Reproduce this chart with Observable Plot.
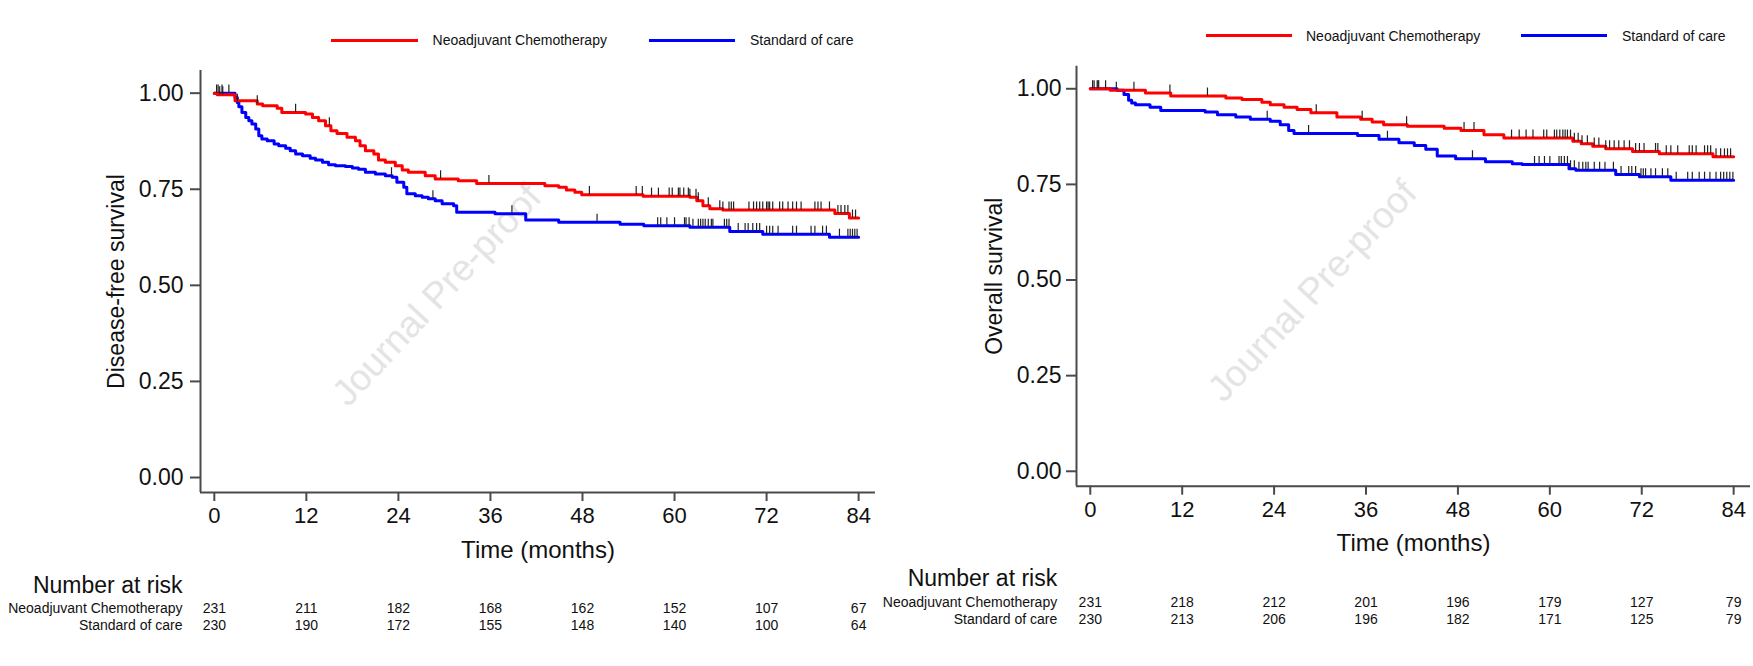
<!DOCTYPE html>
<html>
<head>
<meta charset="utf-8">
<script src="https://cdn.jsdelivr.net/npm/d3@7"></script>
<script src="https://cdn.jsdelivr.net/npm/@observablehq/plot@0.6"></script>
<style>
  body { margin: 0; background: #fff; font-family: "Liberation Sans", Arial, sans-serif; }
  #root { position: relative; width: 1753px; height: 666px; overflow: hidden; background: #fff; }
  .panel { position: absolute; top: 0; }
  .legline { position: absolute; height: 3px; }
  .legtext { position: absolute; font-size: 14px; line-height: 16px; height: 16px; color: #111; white-space: nowrap; }
</style>
</head>
<body>
<div id="root"></div>
<script>
// ---------- Data ----------
const timeTicks = [0, 12, 24, 36, 48, 60, 72, 84];
const survTicks = [0, 0.25, 0.5, 0.75, 1];
const groups = ["Neoadjuvant Chemotherapy", "Standard of care"];
const groupColors = ["#ff0000", "#0000ff"];

// Disease-free survival, step functions [months, survival]
const dfsNeo = [[0,1],[0.4,0.996],[2.7,0.980],[5.6,0.972],[6.3,0.967],[8.2,0.961],[8.8,0.950],[11.9,0.946],[12.8,0.937],[13.6,0.928],[14.5,0.915],[15.2,0.902],[16.0,0.895],[17.3,0.885],[18.4,0.876],[19.0,0.863],[19.7,0.850],[20.8,0.842],[21.4,0.826],[22.3,0.820],[23.6,0.811],[24.5,0.800],[25.3,0.794],[27.5,0.785],[28.8,0.777],[31.8,0.772],[34.2,0.765],[43.1,0.759],[44.9,0.755],[45.9,0.748],[47.0,0.742],[47.9,0.736],[55.9,0.732],[62.0,0.729],[62.9,0.720],[63.7,0.707],[64.6,0.699],[66.3,0.696],[80.9,0.687],[82.8,0.675],[84,0.675]];
const dfsSoc = [[0,1],[2.7,0.989],[3.0,0.976],[3.2,0.965],[3.6,0.950],[4.1,0.937],[4.5,0.928],[4.9,0.920],[5.4,0.907],[5.8,0.889],[6.2,0.881],[6.9,0.876],[7.8,0.868],[8.4,0.863],[9.3,0.857],[9.9,0.850],[10.6,0.842],[11.5,0.837],[12.5,0.831],[13.2,0.826],[14.1,0.820],[14.9,0.814],[15.8,0.811],[17.1,0.809],[18.0,0.805],[18.8,0.802],[19.7,0.794],[21.0,0.790],[22.3,0.785],[23.2,0.781],[23.8,0.768],[24.7,0.755],[25.1,0.738],[26.2,0.733],[27.1,0.729],[27.9,0.725],[28.8,0.720],[29.7,0.712],[31.2,0.707],[31.6,0.690],[36.6,0.686],[40.6,0.670],[44.9,0.664],[52.9,0.659],[56.0,0.655],[62.0,0.651],[67.2,0.640],[71.5,0.633],[80.2,0.625],[84,0.625]];
const dfsNeoCensored = [0.3,0.7,1.1,5.6,10.6,15.0,29.5,35.8,48.9,55.0,55.8,57.0,57.9,59.3,59.7,60.5,60.7,61.2,61.8,62.0,62.8,63.1,64.4,65.9,66.3,67.1,67.4,67.7,69.7,70.3,70.7,71.1,71.5,72.0,72.2,72.4,72.8,73.7,74.1,74.8,75.4,75.9,76.5,78.3,78.7,79.1,80.2,81.3,81.7,82.2,82.6,83.2,83.6];
const dfsSocCensored = [0.5,1.0,1.9,3.0,23.1,28.5,38.8,49.9,57.8,58.2,59.0,60.0,61.3,61.5,61.9,62.4,63.1,63.4,63.7,64.0,64.4,64.8,65.0,66.5,66.8,67.1,68.3,69.2,69.6,70.2,70.7,71.1,72.0,72.4,72.8,73.5,75.4,75.9,77.8,78.3,79.3,79.8,81.5,82.6,82.9,83.2,83.5,83.8];

// Overall survival
const osNeo = [[0,1],[2.6,0.996],[7.2,0.989],[10.5,0.981],[17.7,0.976],[19.8,0.972],[22.4,0.965],[23.5,0.958],[25.3,0.952],[27.0,0.946],[28.8,0.937],[32.2,0.926],[35.3,0.920],[36.8,0.913],[38.3,0.906],[41.4,0.902],[46.2,0.897],[48.4,0.891],[51.4,0.880],[54.0,0.871],[63.0,0.863],[64.1,0.856],[65.6,0.850],[67.3,0.843],[70.8,0.836],[74.3,0.830],[81.3,0.822],[84,0.822]];
const osSoc = [[0,1],[3.5,0.996],[4.4,0.985],[5.0,0.970],[5.4,0.963],[5.9,0.958],[7.8,0.952],[9.2,0.943],[15.0,0.939],[16.6,0.932],[19.0,0.926],[20.9,0.920],[23.5,0.915],[24.8,0.906],[25.9,0.891],[26.6,0.883],[34.9,0.878],[37.7,0.868],[40.3,0.859],[42.3,0.852],[43.8,0.842],[45.3,0.824],[47.7,0.817],[51.6,0.809],[55.1,0.804],[56.4,0.802],[62.5,0.791],[63.4,0.787],[68.6,0.776],[71.7,0.770],[75.8,0.761],[84,0.761]];
const osNeoCensored = [0.3,0.9,1.1,2.0,3.4,5.7,10.4,15.3,29.5,35.5,41.3,48.8,50.1,55.0,56.0,56.9,57.8,59.2,59.6,60.6,60.9,61.3,61.7,62.0,62.3,62.7,63.2,63.7,64.2,64.9,65.8,66.4,67.3,67.8,68.4,69.0,69.7,70.4,71.2,71.7,72.3,73.8,74.1,75.2,75.8,76.7,78.2,78.6,79.1,80.2,80.6,81.0,81.7,82.3,82.8,83.2,83.6];
const osSocCensored = [0.5,1.0,23.1,28.5,38.8,49.9,58.0,58.6,59.3,60.0,61.2,61.5,61.9,62.3,62.7,63.2,63.8,64.3,64.7,65.0,65.8,66.5,67.2,68.3,69.3,70.3,70.7,71.2,71.9,72.2,72.5,73.2,73.8,74.7,75.4,76.5,78.0,78.6,79.5,80.2,80.9,81.7,82.3,82.7,83.1,83.5,83.9];

// Number at risk
const dfsRiskNeo = [231, 211, 182, 168, 162, 152, 107, 67];
const dfsRiskSoc = [230, 190, 172, 155, 148, 140, 100, 64];
const osRiskNeo = [231, 218, 212, 201, 196, 179, 127, 79];
const osRiskSoc = [230, 213, 206, 196, 182, 171, 125, 79];

// ---------- Rendering ----------
const xDomain = [-1.8, 86.2];
const yDomain = [-0.039, 1.059];
const axisColor = "#4a4a4a";
const FONT = "'Liberation Sans', Arial, Helvetica, sans-serif";

function stepAt(curve, t) {
  let s = curve[0][1];
  for (const [ti, si] of curve) { if (ti <= t) s = si; else break; }
  return s;
}

function makePanel(cfg) {
  const fb = cfg.frameBottom;
  const censorMarks = (times, curve) => Plot.ruleX(times, {
    x: d => d, y1: d => stepAt(curve, d), y2: d => stepAt(curve, d) + 0.021,
    stroke: "#222", strokeWidth: 1.2
  });
  return Plot.plot({
    width: cfg.width,
    height: 666,
    marginLeft: cfg.marginLeft,
    marginRight: cfg.marginRight,
    marginTop: cfg.marginTop,
    marginBottom: 666 - fb,
    style: {fontFamily: FONT, color: "#111", background: "transparent", overflow: "visible"},
    x: {domain: xDomain},
    y: {domain: yDomain},
    marks: [
      Plot.text(["Journal Pre-proof"], {frameAnchor: "middle", textAnchor: "middle", dx: cfg.wmDx, dy: cfg.wmDy, rotate: -47, fontSize: 37, fill: "#e4e4e4"}),
      Plot.ruleX([xDomain[0]], {stroke: axisColor, strokeWidth: 2}),
      Plot.ruleY([yDomain[0]], {stroke: axisColor, strokeWidth: 2}),
      Plot.axisX(timeTicks, {tickSize: 9, tickPadding: 6, fontSize: 22, stroke: axisColor, strokeWidth: 2, fill: "#111", label: null}),
      Plot.axisY(survTicks, {tickSize: 10, tickPadding: cfg.yPad, fontSize: 23, tickFormat: d3.format(".2f"), stroke: axisColor, strokeWidth: 2, fill: "#111", label: null}),
      Plot.text([cfg.ylabel], {frameAnchor: "left", textAnchor: "middle", rotate: -90, dx: cfg.ylabelDx, lineAnchor: "bottom", fontSize: 23}),
      Plot.text(["Time (months)"], {frameAnchor: "bottom", textAnchor: "middle", dy: 65, lineAnchor: "bottom", fontSize: 24}),
      Plot.line(cfg.soc, {x: d => d[0], y: d => d[1], curve: "step-after", stroke: groupColors[1], strokeWidth: 3}),
      Plot.line(cfg.neo, {x: d => d[0], y: d => d[1], curve: "step-after", stroke: groupColors[0], strokeWidth: 3}),
      censorMarks(cfg.neoC, cfg.neo),
      censorMarks(cfg.socC, cfg.soc),
      Plot.text(["Number at risk"], {frameAnchor: "bottom-left", dx: cfg.tableDx, dy: cfg.narDy, textAnchor: "end", lineAnchor: "bottom", fontSize: 23}),
      Plot.text([groups[0]], {frameAnchor: "bottom-left", dx: cfg.tableDx, dy: cfg.row1Dy, textAnchor: "end", lineAnchor: "bottom", fontSize: 14}),
      Plot.text([groups[1]], {frameAnchor: "bottom-left", dx: cfg.tableDx, dy: cfg.row2Dy, textAnchor: "end", lineAnchor: "bottom", fontSize: 14}),
      Plot.text(cfg.riskNeo, {x: (d, i) => timeTicks[i], text: d => String(d), frameAnchor: "bottom", textAnchor: "middle", dy: cfg.row1Dy, lineAnchor: "bottom", fontSize: 14}),
      Plot.text(cfg.riskSoc, {x: (d, i) => timeTicks[i], text: d => String(d), frameAnchor: "bottom", textAnchor: "middle", dy: cfg.row2Dy, lineAnchor: "bottom", fontSize: 14})
    ]
  });
}

const root = document.getElementById("root");

function addPanel(left, svg) {
  const div = document.createElement("div");
  div.className = "panel";
  div.style.left = left + "px";
  div.appendChild(svg);
  root.appendChild(div);
}

addPanel(0, makePanel({
  width: 880, marginLeft: 200, marginRight: 5, marginTop: 70, frameBottom: 492,
  ylabel: "Disease-free survival", ylabelDx: -77, yPad: 7,
  neo: dfsNeo, soc: dfsSoc, neoC: dfsNeoCensored, socC: dfsSocCensored,
  riskNeo: dfsRiskNeo, riskSoc: dfsRiskSoc,
  wmDx: -101, wmDy: 14,
  tableDx: -18, narDy: 100.7, row1Dy: 120.7, row2Dy: 137.5
}));

addPanel(880, makePanel({
  width: 873, marginLeft: 196, marginRight: 3, marginTop: 65.7, frameBottom: 485.7,
  ylabel: "Overall survival", ylabelDx: -75, yPad: 5,
  neo: osNeo, soc: osSoc, neoC: osNeoCensored, socC: osSocCensored,
  riskNeo: osRiskNeo, riskSoc: osRiskSoc,
  wmDx: -101, wmDy: 15,
  tableDx: -19.3, narDy: 99.3, row1Dy: 121, row2Dy: 137.7
}));

// Legends (HTML, above each plot)
function addLegend(items) {
  for (const it of items) {
    const line = document.createElement("div");
    line.className = "legline";
    line.style.left = it.lineX + "px";
    line.style.width = it.lineW + "px";
    line.style.top = (it.cy - 1.5) + "px";
    line.style.background = it.color;
    root.appendChild(line);
    const t = document.createElement("div");
    t.className = "legtext";
    t.style.left = it.textX + "px";
    t.style.top = (it.cy - 8) + "px";
    t.textContent = it.label;
    root.appendChild(t);
  }
}
addLegend([
  {label: groups[0], color: groupColors[0], lineX: 330.5, lineW: 87, textX: 432.6, cy: 40},
  {label: groups[1], color: groupColors[1], lineX: 648.6, lineW: 86.4, textX: 750, cy: 40},
  {label: groups[0], color: groupColors[0], lineX: 1206, lineW: 86, textX: 1306, cy: 35.7},
  {label: groups[1], color: groupColors[1], lineX: 1521, lineW: 86, textX: 1622, cy: 35.7}
]);
</script>
</body>
</html>
